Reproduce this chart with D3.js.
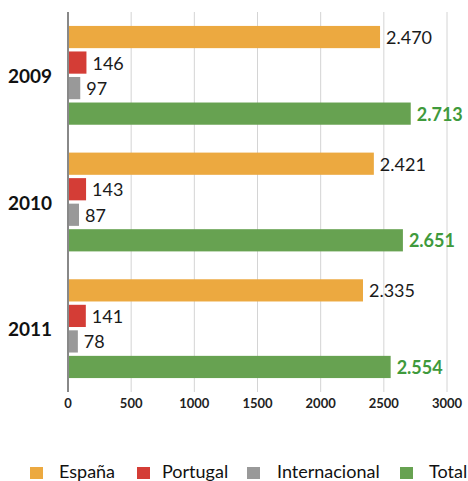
<!DOCTYPE html>
<html>
<head>
<meta charset="utf-8">
<script src="https://cdn.jsdelivr.net/npm/d3@7"></script>
<style>
  body { margin: 0; background: #fff; }
  text { font-family: Lato, "Open Sans", sans-serif; }
</style>
</head>
<body>
<div id="chart"></div>
<script>
const years = ["2009", "2010", "2011"];
const series = ["España", "Portugal", "Internacional", "Total"];
const espana = [2470, 2421, 2335];
const portugal = [146, 143, 141];
const internacional = [97, 87, 78];
const total = [2713, 2651, 2554];
const labels = [
    ["2.470", "146", "97", "2.713"],
    ["2.421", "143", "87", "2.651"],
    ["2.335", "141", "78", "2.554"]
];
const ticks = [0, 500, 1000, 1500, 2000, 2500, 3000];
const colors = ["#ECA940", "#D43D36", "#999999", "#67A251"];

const W = 468, H = 481;

const svg = d3.select("#chart")
    .append("svg")
    .attr("width", W)
    .attr("height", H);

const x = d3.scaleLinear()
    .domain([0, 3000])
    .range([68, 447]);

const y = d3.scaleBand()
    .domain(years)
    .range([12, 392])
    .paddingInner(0.22)
    .paddingOuter(0.11);

const ySub = d3.scaleBand()
    .domain(series)
    .range([0, y.bandwidth()])
    .paddingInner(0.13);

const data = years.map((yr, i) => ({
    year: yr,
    values: [espana[i], portugal[i], internacional[i], total[i]].map((v, j) => ({
        key: series[j], value: v, label: labels[i][j], idx: j
    }))
}));

// gridlines
svg.append("g")
    .selectAll("line")
    .data(ticks.slice(1))
    .enter()
    .append("line")
    .attr("x1", d => x(d))
    .attr("x2", d => x(d))
    .attr("y1", 12)
    .attr("y2", 392)
    .attr("stroke", "#d4d4d4")
    .attr("stroke-width", 1);

// bars
const groups = svg.selectAll(".grp")
    .data(data)
    .enter()
    .append("g")
    .attr("transform", d => `translate(0,${y(d.year)})`);

groups.selectAll("rect")
    .data(d => d.values)
    .enter()
    .append("rect")
    .attr("x", x(0))
    .attr("y", d => ySub(d.key))
    .attr("width", d => x(d.value) - x(0))
    .attr("height", ySub.bandwidth())
    .attr("fill", d => colors[d.idx]);

groups.selectAll(".val")
    .data(d => d.values)
    .enter()
    .append("text")
    .attr("x", d => x(d.value) + 6)
    .attr("y", d => ySub(d.key) + ySub.bandwidth() / 2)
    .attr("dominant-baseline", "central")
    .style("font-size", "18px")
    .style("font-weight", d => d.idx === 3 ? "bold" : "normal")
    .style("fill", d => d.idx === 3 ? "#3f9a3c" : "#1a1a1a")
    .text(d => d.label);

// year labels
svg.selectAll(".year")
    .data(years)
    .enter()
    .append("text")
    .attr("x", 52)
    .attr("y", d => y(d) + y.bandwidth() / 2)
    .attr("text-anchor", "end")
    .attr("dominant-baseline", "central")
    .style("font-size", "19px")
    .style("font-weight", "bold")
    .style("fill", "#111")
    .text(d => d);

// axis line
svg.append("line")
    .attr("x1", x(0))
    .attr("x2", x(0))
    .attr("y1", 12)
    .attr("y2", 392)
    .attr("stroke", "#888")
    .attr("stroke-width", 2);

// tick labels
svg.selectAll(".tick")
    .data(ticks)
    .enter()
    .append("text")
    .attr("x", d => x(d))
    .attr("y", 408)
    .attr("text-anchor", "middle")
    .style("font-size", "13px")
    .style("font-weight", "bold")
    .style("fill", "#222")
    .text(d => d);

// legend
const legendX = [30, 137, 247, 400];
const legend = svg.selectAll(".leg")
    .data(series)
    .enter()
    .append("g")
    .attr("transform", (d, i) => `translate(${legendX[i]},467)`);

legend.append("rect")
    .attr("width", 13)
    .attr("height", 12)
    .attr("fill", (d, i) => colors[i]);

legend.append("text")
    .attr("x", (d, i) => i === 1 ? 25 : (i === 2 ? 30 : 29))
    .attr("y", 11)
    .style("font-size", "18px")
    .style("fill", "#111")
    .text(d => d);
</script>
</body>
</html>
